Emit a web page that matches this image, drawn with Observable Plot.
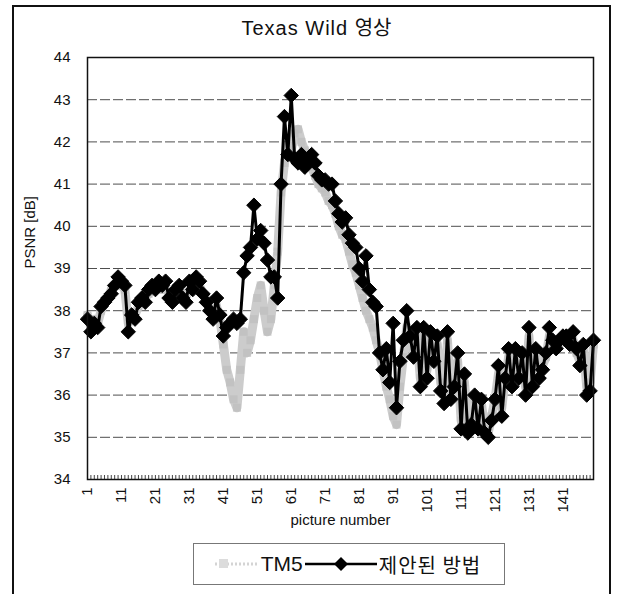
<!DOCTYPE html>
<html>
<head>
<meta charset="utf-8">
<script src="https://cdn.jsdelivr.net/npm/d3@7"></script>
<script src="https://cdn.jsdelivr.net/npm/@observablehq/plot@0.6"></script>
<style>
  html, body { margin: 0; padding: 0; background: #fff; }
  body { font-family: "Liberation Sans", "Noto Sans CJK KR", sans-serif; color: #111; }
  #wrap { position: relative; width: 617px; height: 594px; overflow: hidden; }
  #border { position: absolute; left: 12px; top: 5px; width: 599px; height: 640px; border: 2px solid #111; border-bottom: none; box-sizing: border-box; }
  #title { position: absolute; left: 8px; top: 14px; width: 617px; height: 26px; line-height: 26px; text-align: center; font-size: 20px; letter-spacing: 1px; }
  #title .ko { font-family: "Noto Sans CJK KR", sans-serif; letter-spacing: 0; }
  #chart { position: absolute; left: 0; top: 40px; }
  #legend { position: absolute; left: 193px; top: 543px; width: 312px; height: 42px; border: 1px solid #777; box-sizing: border-box;
            display: flex; align-items: center; justify-content: center; font-size: 21px; }
  #legend span { margin: 0 2px; }
  #legend .ko { font-family: "Noto Sans CJK KR", sans-serif; letter-spacing: 1px; font-size: 20px; }
</style>
</head>
<body>
<div id="wrap">
  <div id="border"></div>
  <div id="title">Texas Wild <span class="ko">영상</span></div>
  <div id="chart"></div>
  <div id="legend">
    <svg width="44" height="20"><line x1="0" y1="10" x2="44" y2="10" stroke="#d4d4d4" stroke-width="3" stroke-dasharray="2,2"/><rect x="4" y="5" width="9" height="9" fill="#dcdcdc"/></svg>
    <span>TM5</span>
    <svg width="72" height="20"><line x1="0" y1="10" x2="72" y2="10" stroke="#000" stroke-width="2.5"/><path d="M36,3 L43,10 L36,17 L29,10Z" fill="#000"/></svg>
    <span class="ko">제안된 방법</span>
  </div>
</div>
<script>
// ---- data ----
const pictures = d3.range(1, 151); // picture numbers 1..150
const xTickLabels = [1, 11, 21, 31, 41, 51, 61, 71, 81, 91, 101, 111, 121, 131, 141];
const yTicks = [34, 35, 36, 37, 38, 39, 40, 41, 42, 43, 44];

const tm5 = [
  37.9, 37.6, 37.8, 37.7, 38.0, 38.2, 38.3, 38.5, 38.6, 38.7,
  38.6, 38.5, 37.7, 37.8, 37.9, 38.1, 38.2, 38.3, 38.4, 38.5,
  38.6, 38.6, 38.5, 38.6, 38.4, 38.3, 38.4, 38.5, 38.4, 38.3,
  38.6, 38.5, 38.7, 38.6, 38.4, 38.3, 38.1, 37.9, 38.1, 37.8,
  37.2, 36.6, 36.3, 35.9, 35.7, 36.6, 37.5, 37.0, 37.3, 37.8,
  38.3, 38.6, 38.0, 37.5, 37.8, 38.6, 39.4, 40.8, 41.5, 41.9,
  41.8, 42.2, 42.3, 42.0, 41.8, 41.6, 41.4, 41.2, 41.0, 40.9,
  40.8, 40.6, 40.5, 40.3, 40.0, 39.8, 39.7, 39.4, 39.1, 38.9,
  38.6, 38.3, 38.0, 37.8, 37.6, 37.3, 37.0, 36.6, 36.2, 35.9,
  35.5, 35.3, 36.2, 36.9, 37.6, 37.3, 37.0, 37.4, 36.4, 37.4,
  36.6, 37.3, 36.9, 37.2, 36.3, 36.0, 37.3, 36.0, 36.3, 36.8,
  35.4, 36.3, 35.3, 35.4, 35.9, 35.3, 35.8, 35.2, 35.1, 35.5,
  35.9, 36.5, 35.7, 36.4, 36.9, 36.3, 36.9, 36.5, 36.9, 36.2,
  37.4, 36.3, 37.0, 36.5, 36.7, 36.9, 37.4, 37.2, 37.1, 37.2,
  37.3, 37.3, 37.2, 37.3, 37.0, 36.8, 37.1, 36.2, 36.3, 37.2
];

const proposed = [
  37.8, 37.5, 37.7, 37.6, 38.1, 38.2, 38.3, 38.4, 38.6, 38.8,
  38.7, 38.6, 37.5, 37.9, 37.8, 38.2, 38.3, 38.2, 38.5, 38.6,
  38.5, 38.7, 38.6, 38.7, 38.3, 38.2, 38.5, 38.6, 38.3, 38.2,
  38.7, 38.5, 38.8, 38.7, 38.4, 38.2, 38.0, 37.8, 38.3, 37.9,
  37.4, 37.6, 37.7, 37.8, 37.7, 37.8, 38.9, 39.3, 39.5, 40.5,
  39.7, 39.9, 39.6, 39.2, 38.8, 38.8, 38.3, 41.0, 42.6, 41.7,
  43.1, 41.6, 41.5, 41.7, 41.4, 41.6, 41.7, 41.5, 41.2, 41.1,
  41.1, 41.0, 41.0, 40.6, 40.3, 40.1, 40.2, 39.8, 39.6, 39.5,
  39.0, 38.7, 39.3, 38.5, 38.2, 38.1, 37.0, 36.6, 37.1, 36.3,
  37.7, 35.7, 36.8, 37.3, 38.0, 37.4, 36.9, 37.6, 36.2, 37.6,
  36.4, 37.5, 36.8, 37.4, 36.1, 35.8, 37.5, 35.9, 36.2, 37.0,
  35.2, 36.5, 35.1, 35.3, 36.0, 35.2, 35.9, 35.1, 35.0, 35.4,
  35.9, 36.7, 35.5, 36.4, 37.1, 36.2, 37.1, 36.4, 37.0, 36.0,
  37.6, 36.2, 37.1, 36.4, 36.6, 37.0, 37.6, 37.3, 37.1, 37.3,
  37.4, 37.4, 37.2, 37.5, 37.1, 36.7, 37.2, 36.0, 36.1, 37.3
];

const tm5Data = pictures.map((p, i) => ({picture: p, psnr: tm5[i]}));
const propData = pictures.map((p, i) => ({picture: p, psnr: proposed[i]}));

const chart = Plot.plot({
  width: 617,
  height: 500,
  marginLeft: 87,
  marginRight: 24,
  marginTop: 17,
  marginBottom: 61,
  style: { fontFamily: "Liberation Sans, Arial, sans-serif", fontSize: "14px", color: "#111", background: "transparent" },
  x: { type: "linear", domain: [1, 150] },
  y: { domain: [34, 44] },
  marks: [
    Plot.gridY(yTicks, { stroke: "#222", strokeOpacity: 0.8, strokeDasharray: "10,3" }),
    Plot.axisY(yTicks, { tickSize: 0, tickPadding: 17, fontSize: 15, label: null }),
    Plot.axisX(pictures, { tickSize: 4, dy: -4, tickFormat: () => "", stroke: "#444", label: null }),
    Plot.axisX(xTickLabels, { tickSize: 0, tickPadding: 8, tickRotate: -90, fontSize: 15, label: null }),
    Plot.text(["picture number"], { frameAnchor: "bottom", dy: 45, fontSize: 15 }),
    Plot.text(["PSNR [dB]"], { frameAnchor: "left", dx: -57, rotate: -90, fontSize: 15 }),
    Plot.line(tm5Data, { x: "picture", y: "psnr", stroke: "#cccccc", strokeWidth: 9 }),
    Plot.dot(tm5Data, { x: "picture", y: "psnr", symbol: "square", r: 4.5, fill: "#bdbdbd", fillOpacity: 0.7 }),
    Plot.line(propData, { x: "picture", y: "psnr", stroke: "#000", strokeWidth: 3 }),
    Plot.dot(propData, { x: "picture", y: "psnr", symbol: "diamond2", r: 6.5, fill: "#000", stroke: "#000", strokeWidth: 1 }),
    Plot.frame({ stroke: "#111", strokeWidth: 1.5 })
  ]
});
document.getElementById("chart").appendChild(chart);
</script>
</body>
</html>
